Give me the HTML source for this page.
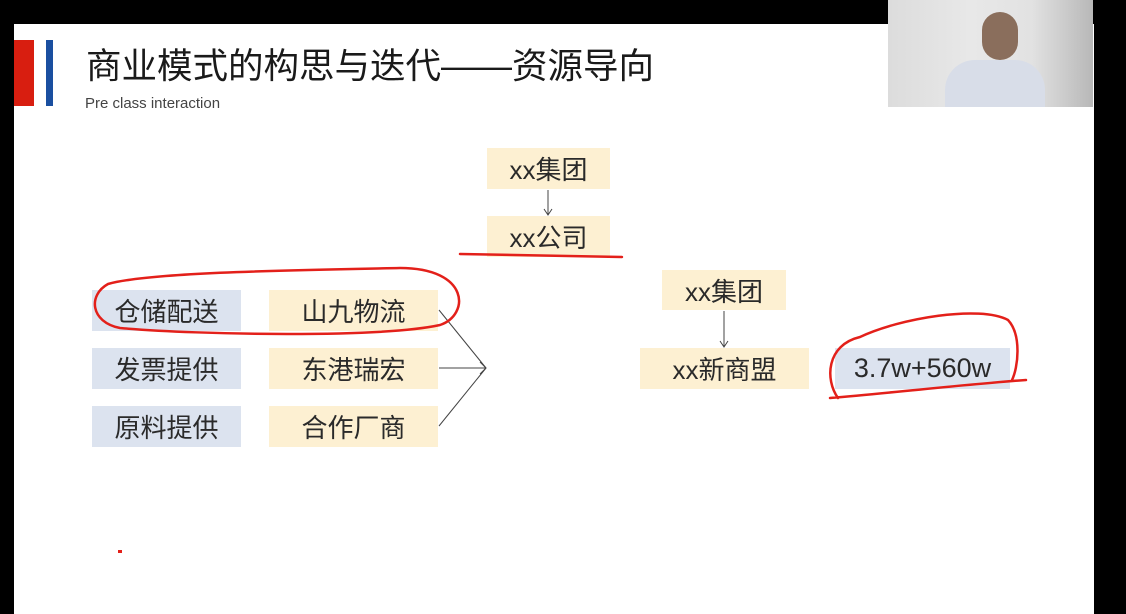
<!DOCTYPE html>
<html><head><meta charset="utf-8"><style>
html,body{margin:0;padding:0;}
body{width:1126px;height:614px;background:#000;position:relative;overflow:hidden;font-family:"Liberation Sans","Noto Sans CJK SC",sans-serif;}
.slide{position:absolute;left:14px;top:24px;width:1080px;height:590px;background:#fff;}
.b{position:absolute;display:flex;align-items:center;justify-content:center;font-size:26px;color:#2a2a2a;}
.y{background:#fdf0d2;}
.u{background:#dce3ef;}
</style></head><body>
<div class="slide"></div>
<div style="position:absolute;left:14px;top:40px;width:20px;height:66px;background:#d81e10"></div>
<div style="position:absolute;left:46px;top:40px;width:7px;height:66px;background:#1a4fa0"></div>
<div style="position:absolute;left:86px;top:38px;font-size:35.5px;color:#1a1a1a;white-space:nowrap;">商业模式的构思与迭代——资源导向</div>
<div style="position:absolute;left:85px;top:95px;font-size:15px;color:#444;">Pre class interaction</div>
<div style="position:absolute;left:888px;top:0;width:205px;height:107px;background:linear-gradient(90deg,#dcdcdc 0%,#e8e8e8 40%,#e2e2e2 70%,#b8b8b8 100%);"></div>
<div style="position:absolute;left:945px;top:60px;width:100px;height:47px;background:#d8dde8;border-radius:30px 30px 0 0"></div>
<div style="position:absolute;left:982px;top:12px;width:36px;height:48px;background:#8a6e5c;border-radius:18px"></div>

<div class="b y" style="left:487px;top:148px;width:123px;height:41px">xx集团</div>
<div class="b y" style="left:487px;top:216px;width:123px;height:41px">xx公司</div>
<div class="b u" style="left:92px;top:290px;width:149px;height:41px">仓储配送</div>
<div class="b u" style="left:92px;top:348px;width:149px;height:41px">发票提供</div>
<div class="b u" style="left:92px;top:406px;width:149px;height:41px">原料提供</div>
<div class="b y" style="left:269px;top:290px;width:169px;height:41px">山九物流</div>
<div class="b y" style="left:269px;top:348px;width:169px;height:41px">东港瑞宏</div>
<div class="b y" style="left:269px;top:406px;width:169px;height:41px">合作厂商</div>
<div class="b y" style="left:662px;top:270px;width:124px;height:40px">xx集团</div>
<div class="b y" style="left:640px;top:348px;width:169px;height:41px">xx新商盟</div>
<div class="b u" style="left:835px;top:348px;width:175px;height:41px;font-size:27px">3.7w+560w</div>

<svg width="1126" height="614" style="position:absolute;left:0;top:0" fill="none">
<g stroke="#444" stroke-width="1">
<line x1="548" y1="190" x2="548" y2="215"/><path d="M544 209 L548 215 L552 209"/>
<line x1="724" y1="311" x2="724" y2="347"/><path d="M720 341 L724 347 L728 341"/>
<line x1="439" y1="310" x2="486" y2="368"/>
<line x1="439" y1="368" x2="486" y2="368"/>
<line x1="439" y1="426" x2="486" y2="368"/>
<path d="M480 362 L486 368 L480 374"/>
</g>
<g stroke="#e3201a" stroke-width="2.5" stroke-linecap="round">
<line x1="460" y1="254" x2="622" y2="257"/>
<path d="M108 284 C 150 272, 300 270, 400 268 C 470 268, 470 315, 440 325 C 380 338, 200 335, 120 328 C 90 322, 88 295, 108 284 Z"/>
<path d="M860 337 C 900 318, 980 305, 1008 320 C 1022 335, 1018 368, 1012 380 M830 398 C 900 392, 970 384, 1026 380 M838 398 C 825 380, 826 345, 860 337"/>
</g>
<rect x="118" y="550" width="4" height="3" fill="#e3201a"/>
</svg>
</body></html>
